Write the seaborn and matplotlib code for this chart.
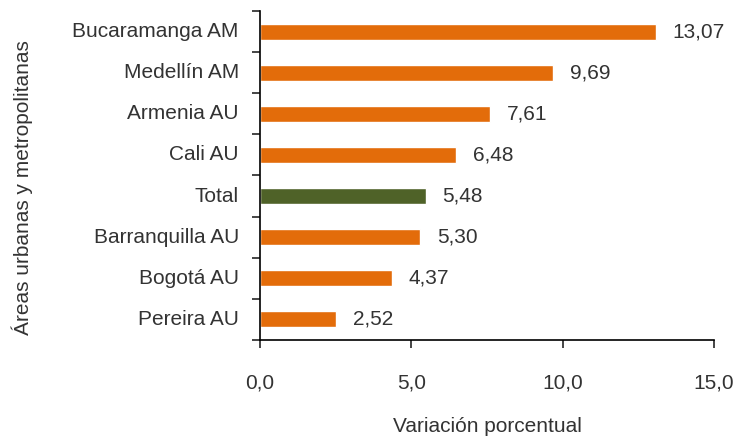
import matplotlib
matplotlib.use("Agg")
import matplotlib.pyplot as plt
import seaborn as sns
import pandas as pd

categories = ["Bucaramanga AM", "Medellín AM", "Armenia AU", "Cali AU", "Total",
              "Barranquilla AU", "Bogotá AU", "Pereira AU"]
values = [13.07, 9.69, 7.61, 6.48, 5.48, 5.30, 4.37, 2.52]
groups = ["area", "area", "area", "area", "total", "area", "area", "area"]
xticks = [0, 5, 10, 15]

sns.set_style("white")
plt.rcParams['font.family'] = ['Liberation Sans', 'DejaVu Sans']
FS = 15
TC = "#333333"

df = pd.DataFrame({"cat": categories, "val": values, "grp": groups})

fig = plt.figure(figsize=(7.37, 4.42), dpi=100)
ax = fig.add_axes([0.3528, 0.231, 0.616, 0.744])
sns.barplot(data=df, x="val", y="cat", hue="grp", dodge=False,
            palette={"area": "#E36C0A", "total": "#4F6228"},
            width=0.39, legend=False, ax=ax, saturation=1)

ax.set_xlim(0, 15)
ax.set_ylim(len(categories) - 0.5, -0.5)
ax.set_xticks(xticks)
ax.set_xticklabels([f"{t:.1f}".replace(".", ",") for t in xticks], fontsize=FS, color=TC)
ax.tick_params(axis="x", length=6, width=1.2, direction="out", pad=18, bottom=True)
ax.set_yticks([i - 0.5 for i in range(len(categories) + 1)], minor=False)
ax.set_yticklabels([])
ax.tick_params(axis="y", length=6, width=1.2, direction="out", left=True)
for i, c in enumerate(categories):
    ax.text(-0.7, i, c, ha="right", va="center", fontsize=FS, color=TC)
for i, v in enumerate(values):
    ax.text(v + 0.55, i, f"{v:.2f}".replace(".", ","), ha="left", va="center",
            fontsize=FS, color=TC)

for s in ["top", "right"]:
    ax.spines[s].set_visible(False)
for s in ["left", "bottom"]:
    ax.spines[s].set_color("black")
    ax.spines[s].set_linewidth(1.2)

ax.set_xlabel("")
ax.set_ylabel("")
fig.text(0.661, 0.034, "Variación porcentual", ha="center", va="center",
         fontsize=FS, color=TC)
fig.text(0.03, 0.575, "Áreas urbanas y metropolitanas", rotation=90, ha="center",
         va="center", fontsize=FS, color=TC)

fig.savefig("out.png", dpi=100)
